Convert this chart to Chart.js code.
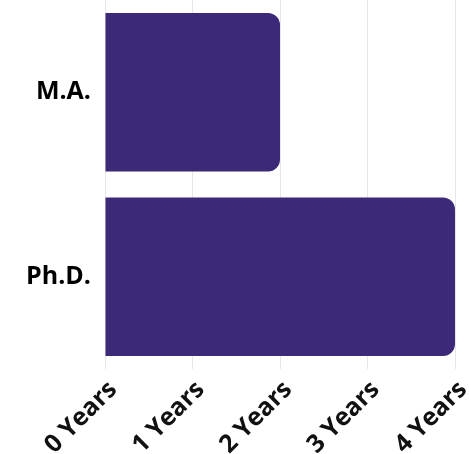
<!DOCTYPE html>
<html>
<head>
<meta charset="utf-8">
<script src="https://cdn.jsdelivr.net/npm/chart.js@4/dist/chart.umd.min.js"></script>
<style>
    html, body { margin: 0; padding: 0; background: #ffffff; }
    #wrap { width: 469px; height: 454px; }
</style>
</head>
<body>
<div id="wrap"><canvas id="degreeChart" width="469" height="454"></canvas></div>
<script>
// Degree programmes and how many years each takes
const degrees = ['M.A.', 'Ph.D.'];
const yearsToFinish = [2, 4];
const yearTicks = ['0 Years', '1 Years', '2 Years', '3 Years', '4 Years'];

const ctx = document.getElementById('degreeChart').getContext('2d');
const chart = new Chart(ctx, {
    type: 'bar',
    data: {
        labels: degrees,
        datasets: [{
            data: yearsToFinish,
            backgroundColor: '#3c2977',
            borderRadius: 12,
            borderSkipped: 'start',
            categoryPercentage: 1,
            barPercentage: 0.86
        }]
    },
    options: {
        indexAxis: 'y',
        responsive: false,
        animation: false,
        layout: { padding: { top: 0, right: 14, bottom: 0, left: 0 } },
        plugins: {
            legend: { display: false },
            tooltip: { enabled: false }
        },
        scales: {
            x: {
                min: 0,
                max: 4,
                ticks: {
                    stepSize: 1,
                    maxRotation: 45,
                    minRotation: 45,
                    labelOffset: 8,
                    padding: 6,
                    color: '#111111',
                    font: { family: 'Open Sans', size: 25, weight: 'bold' },
                    callback: (value) => yearTicks[value]
                },
                grid: { color: '#e6e6e6', drawTicks: false },
                border: { display: false },
                afterFit: (scale) => {
                    scale.height = 85;
                    scale.paddingLeft = 0;
                    scale.paddingRight = 0;
                }
            },
            y: {
                ticks: {
                    color: '#000000',
                    padding: 6,
                    font: { family: 'Open Sans', size: 25, weight: 'bold' }
                },
                grid: { display: false },
                border: { display: false },
                afterFit: (scale) => {
                    scale.width = 105;
                    scale.paddingTop = 0;
                    scale.paddingBottom = 0;
                }
            }
        }
    }
});
</script>
</body>
</html>
